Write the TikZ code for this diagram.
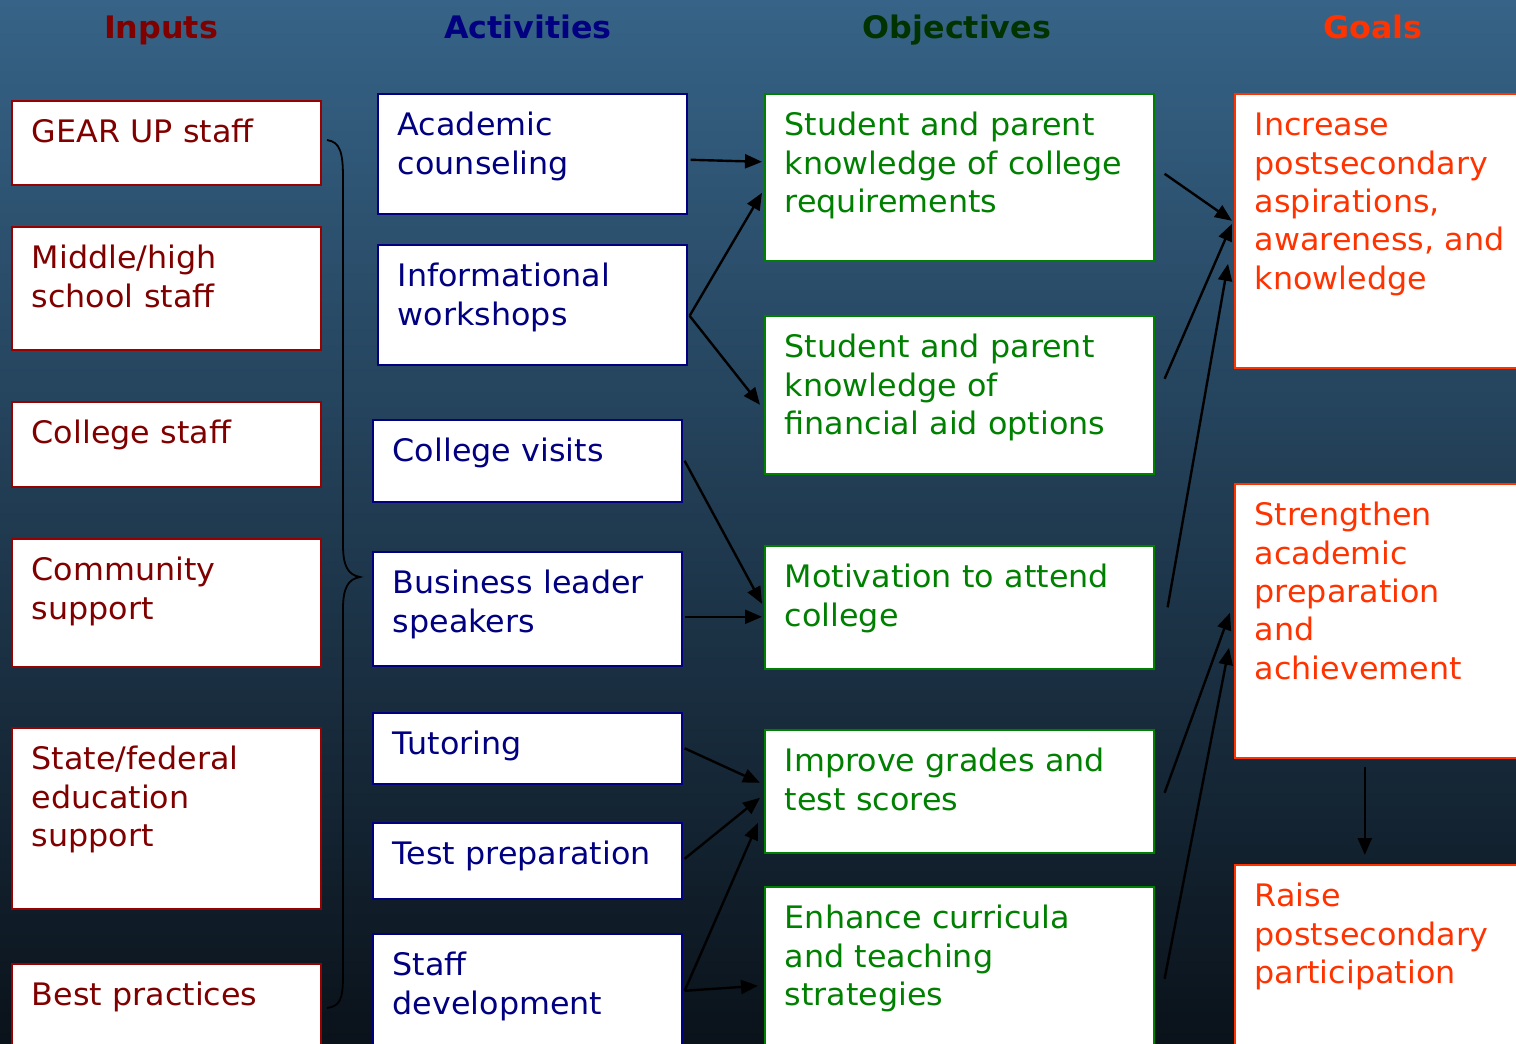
\documentclass[tikz,border=0pt]{standalone}
\usepackage{fontspec}
\setmainfont[FakeStretch=1.025]{DejaVu Sans}
\usetikzlibrary{arrows.meta}
\definecolor{inred}{HTML}{800000}
\definecolor{inedge}{HTML}{990000}
\definecolor{actnavy}{HTML}{000080}
\definecolor{objgreen}{HTML}{008000}
\definecolor{objhead}{HTML}{003300}
\definecolor{goalred}{HTML}{FF3300}
\definecolor{bgtop}{HTML}{366387}
\definecolor{bgmid}{HTML}{264A66}
\definecolor{bgbot}{HTML}{0A121A}
\tikzset{
  >=Triangle,
  font=\fontsize{31}{38.3}\selectfont,
  cell/.style={
    draw=#1, fill=white, line width=1.6pt, anchor=north west,
    align=left, inner xsep=20pt, inner ysep=16pt, text height=26pt
  },
  inbox/.style={cell=inedge, text=inred, text width=269pt},
  actbox/.style={cell=actnavy, text=actnavy, text width=269pt},
  objbox/.style={cell=objgreen, text=objgreen, text width=349pt},
  goalbox/.style={cell=goalred, text=goalred, text width=260pt},
  head/.style={font=\fontsize{31}{36}\selectfont\bfseries, text=#1, anchor=base},
  arr/.style={-{Triangle[length=17pt,width=14pt]}, line width=2.4pt, draw=black},
  bracket/.style={line width=1.8pt, draw=black}
}

\begin{document}
\begin{tikzpicture}[x=1pt, y=-1pt]
  \useasboundingbox (0,0) rectangle (1516,1044);
  \clip (0,0) rectangle (1516,1044);
  \shade[top color=bgtop, middle color=bgmid, bottom color=bgbot] (0,0) rectangle (1516,1044);

  \node[head=inred] (hin) at (161,38) {Inputs};
  \node[head=actnavy] (hact) at (528,38) {Activities};
  \node[head=objhead] (hobj) at (957,38) {Objectives};
  \node[head=goalred] (hgoal) at (1373,38) {Goals};

  % inputs
  \node[inbox, text depth=26pt] (gear) at (11,100) {GEAR UP staff};
  \node[inbox, text depth=65pt] (school) at (11,226) {Middle/high\\school staff};
  \node[inbox, text depth=27pt] (cstaff) at (11,401) {College staff};
  \node[inbox, text depth=70pt] (comm) at (11,538) {Community\\support};
  \node[inbox, text depth=123pt] (state) at (11,727) {State/federal\\education\\support};
  \node[inbox, text depth=39pt] (best) at (11,963) {Best practices};

  \draw[bracket] (327,140) .. controls (340,142) and (343,152) .. (343,178)
    -- (343,545) .. controls (343,566) and (348,575) .. (360,577)
    .. controls (348,579) and (343,588) .. (343,609)
    -- (343,975) .. controls (343,1000) and (340,1006) .. (327,1008);

  % activities
  \node[actbox, text depth=62pt] (ac) at (377,93) {Academic\\counseling};
  \node[actbox, text depth=62pt] (iw) at (377,244) {Informational\\workshops};
  \node[actbox, text depth=24pt] (cv) at (372,419) {College visits};
  \node[actbox, text depth=56pt] (bl) at (372,551) {Business leader\\speakers};
  \node[actbox, text depth=13pt] (tu) at (372,712) {Tutoring};
  \node[actbox, text depth=18pt] (tp) at (372,822) {Test preparation};
  \node[actbox, text depth=69pt] (sd) at (372,933) {Staff\\development};

  % objectives
  \node[objbox, text depth=109pt] (o1) at (764,93) {Student and parent\\knowledge of college\\requirements};
  \node[objbox, text depth=100pt] (o2) at (764,315) {Student and parent\\knowledge of\\financial aid options};
  \node[objbox, text depth=65pt] (o3) at (764,545) {Motivation to attend\\college};
  \node[objbox, text depth=65pt] (o4) at (764,729) {Improve grades and\\test scores};
  \node[objbox, text depth=116pt] (o5) at (764,886) {Enhance curricula\\and teaching\\strategies};

  % goals
  \node[goalbox, text depth=216pt] (g1) at (1234,93) {Increase\\postsecondary\\aspirations,\\awareness, and\\knowledge};
  \node[goalbox, text depth=216pt] (g2) at (1234,483) {Strengthen\\academic\\preparation\\and\\achievement};
  \node[goalbox, text depth=138pt] (g3) at (1234,864) {Raise\\postsecondary\\participation};

  \draw[arr] ([xshift=3pt,yshift=-6pt]ac.east) -- ([xshift=-2pt,yshift=15.5pt]o1.west);
  \draw[arr] ([xshift=2pt,yshift=-11pt]iw.east) -- ([xshift=-2pt,yshift=-15.5pt]o1.west);
  \draw[arr] ([xshift=2pt,yshift=-11pt]iw.east) -- ([xshift=-4pt,yshift=-10pt]o2.west);
  \draw[arr] ([xshift=2pt]cv.east) -- ([xshift=-2pt,yshift=3.5pt]o3.west);
  \draw[arr] ([xshift=2pt,yshift=-8pt]bl.east) -- ([xshift=-2pt,yshift=-9.5pt]o3.west);
  \draw[arr] ([xshift=2pt]tu.east) -- ([xshift=-4pt,yshift=8.5pt]o4.west);
  \draw[arr] ([xshift=2pt,yshift=2pt]tp.east) -- ([xshift=-4pt,yshift=-6.5pt]o4.west);
  \draw[arr] ([xshift=2pt,yshift=6.5pt]sd.east) -- ([xshift=-6pt,yshift=-31.5pt]o4.west);
  \draw[arr] ([xshift=2pt,yshift=6.5pt]sd.east) -- ([xshift=-6pt,yshift=-12pt]o5.west);

  \draw[arr] ([xshift=10pt,yshift=3.5pt]o1.east) -- ([xshift=-2pt,yshift=10pt]g1.west);
  \draw[arr] ([xshift=10pt,yshift=16pt]o2.east) -- ([xshift=-2pt,yshift=7pt]g1.west);
  \draw[arr] ([xshift=13pt]o3.east) -- ([xshift=-6pt,yshift=-33pt]g1.west);
  \draw[arr] ([xshift=10pt,yshift=-1.5pt]o4.east) -- ([xshift=-4pt,yshift=8pt]g2.west);
  \draw[arr] ([xshift=10pt,yshift=-5pt]o5.east) -- ([xshift=-5pt,yshift=-27pt]g2.west);
  \draw[arr] ([xshift=-20pt,yshift=-8pt]g2.south) -- ([xshift=-20pt,yshift=9pt]g3.north);
\end{tikzpicture}
\end{document}
